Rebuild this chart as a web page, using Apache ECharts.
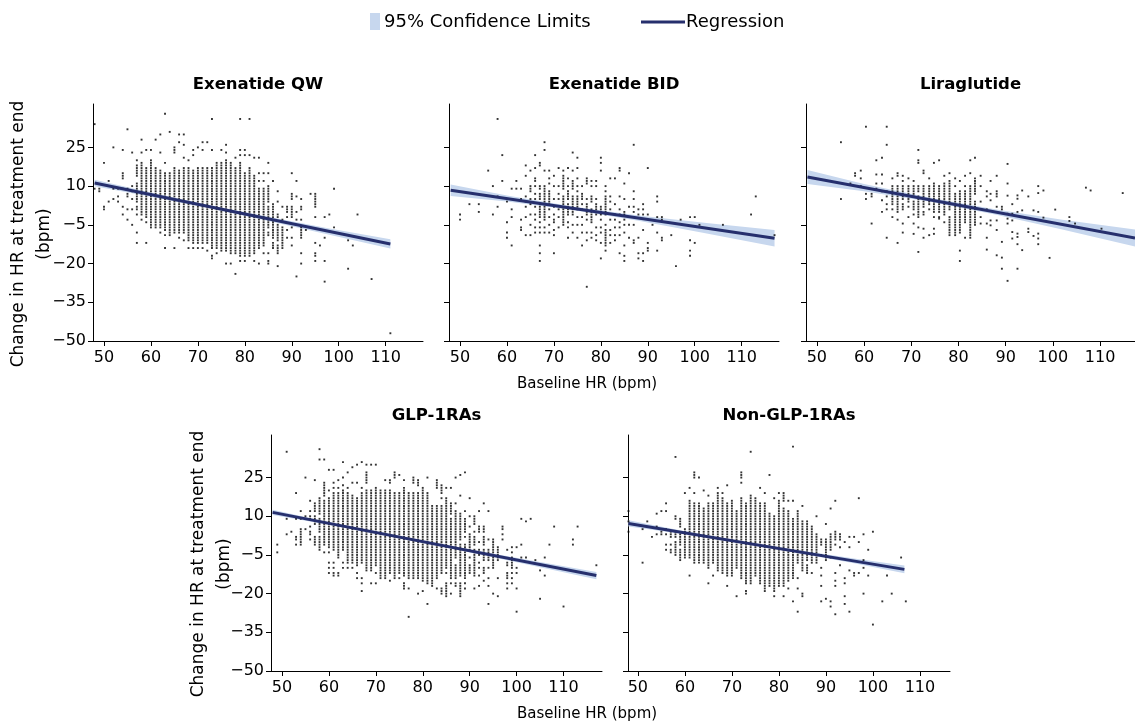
<!DOCTYPE html>
<html><head><meta charset="utf-8">
<script src="https://cdn.jsdelivr.net/npm/echarts@6/dist/echarts.min.js"></script>
<style>html,body{margin:0;padding:0;background:#fff}#chart{width:1135px;height:724px}</style>
</head><body><div id="chart"></div>
<script>
// ---------- texts / ticks ----------
const panelTitles = ['Exenatide QW', 'Exenatide BID', 'Liraglutide', 'GLP-1RAs', 'Non-GLP-1RAs'];
const xTickValues = [50, 60, 70, 80, 90, 100, 110];
const yTickValues = [-50, -35, -20, -5, 10, 25];
const xAxisName = 'Baseline HR (bpm)';
const yAxisName = 'Change in HR at treatment end\n(bpm)';
const legendLabels = ['95% Confidence Limits', 'Regression'];

// ---------- scatter data: [baseline HR, [change values at that HR]] ----------
const exenatideQW = [
 [48,[34,9]],[49,[9,8]],[50,[19,2,1]],[51,[12,4]],[52,[25,9,5]],[53,[9,6,4]],
 [54,[24,15,14,13,9,2,-1]],[55,[32,9,7,6,1,-3]],[56,[23,10,8,5,1,-5]],
 [57,[20,18,17,16,15,14,11,10,9,8,7,6,5,4,2,1,-1,-8,-12]],
 [58,[28,23,19,18,17,16,15,14,13,12,11,10,9,8,7,6,5,4,3,2,1,0,-1,-3]],
 [59,[24,17,16,15,14,13,12,11,10,9,8,7,6,5,4,3,2,1,0,-1,-2,-4,-12]],
 [60,[24,20,19,18,17,16,15,14,13,12,11,10,9,8,7,6,5,4,3,2,1,0,-1,-2,-3,-4,-5,-6]],
 [61,[28,17,16,15,14,13,12,11,10,9,8,7,6,5,4,3,2,1,0,-1,-2,-3,-4,-5,-6]],
 [62,[30,23,16,15,14,13,12,11,10,9,8,7,6,5,4,3,2,1,0,-1,-2,-3,-4,-5,-6,-8]],
 [63,[38,19,15,14,13,12,11,10,9,8,7,6,5,4,3,2,1,0,-1,-2,-3,-4,-5,-6,-7,-9,-14]],
 [64,[31,15,14,13,12,11,10,9,8,7,6,5,4,3,2,1,0,-1,-2,-3,-4,-5,-6,-7,-8,-9]],
 [65,[25,24,23,17,16,15,14,13,12,11,10,9,8,7,6,5,4,3,2,1,0,-1,-2,-3,-4,-5,-6,-7,-8,-14]],
 [66,[30,27,16,15,14,13,12,11,10,9,8,7,6,5,4,3,2,1,0,-1,-2,-3,-4,-5,-6,-7,-8,-10]],
 [67,[30,26,21,17,16,15,14,13,12,11,10,9,8,7,6,5,4,3,2,1,0,-1,-2,-3,-4,-5,-6,-7,-8,-11]],
 [68,[20,17,16,15,14,13,12,11,10,9,8,7,6,5,4,3,2,1,0,-1,-2,-3,-4,-5,-6,-7,-8,-9,-10,-11,-14]],
 [69,[24,22,16,15,14,13,12,11,10,9,8,7,6,5,4,3,2,1,0,-1,-2,-3,-4,-5,-6,-7,-8,-9,-10,-11,-12,-14]],
 [70,[25,17,16,15,14,13,12,11,10,9,8,7,6,5,4,3,2,1,0,-1,-2,-3,-4,-5,-6,-7,-8,-9,-10,-11,-12,-14]],
 [71,[27,24,17,16,15,14,13,12,11,10,9,8,7,6,5,4,3,2,1,0,-1,-2,-3,-4,-5,-6,-7,-8,-9,-10,-11,-12,-14]],
 [72,[27,17,16,15,14,13,12,11,10,9,8,7,6,5,4,3,2,1,0,-1,-2,-3,-4,-5,-6,-7,-8,-9,-10,-11,-12,-15]],
 [73,[36,24,17,16,15,14,13,12,11,10,9,8,7,6,5,4,3,2,1,0,-1,-2,-3,-4,-5,-6,-7,-8,-9,-10,-11,-12,-13,-14,-17,-18]],
 [74,[19,18,17,16,15,14,13,12,11,10,9,8,7,6,5,4,3,2,1,0,-1,-2,-3,-4,-5,-6,-7,-8,-9,-10,-11,-12,-13,-14,-16]],
 [75,[24,19,18,17,16,15,14,13,12,11,10,9,8,7,6,5,4,3,2,1,0,-1,-2,-3,-4,-5,-6,-7,-8,-9,-10,-11,-12,-13,-14,-15]],
 [76,[26,23,20,19,18,17,16,15,14,13,12,11,10,9,8,7,6,5,4,3,2,1,0,-1,-2,-3,-4,-5,-6,-7,-8,-9,-10,-11,-12,-13,-14,-15,-20]],
 [77,[19,18,17,16,15,14,13,12,11,10,9,8,7,6,5,4,3,2,1,0,-1,-2,-3,-4,-5,-6,-7,-8,-9,-10,-11,-12,-13,-14,-15,-16,-20]],
 [78,[21,17,16,15,14,13,12,11,10,9,8,7,6,5,4,3,2,1,0,-1,-2,-3,-4,-5,-6,-7,-8,-9,-10,-11,-12,-13,-14,-15,-16,-24]],
 [79,[36,24,22,19,18,17,16,15,14,13,12,11,10,9,8,7,6,5,4,3,2,1,0,-1,-2,-3,-4,-5,-6,-7,-8,-9,-10,-11,-12,-13,-14,-15,-16,-17,-19]],
 [80,[24,22,15,14,13,12,11,10,9,8,7,6,5,4,3,2,1,0,-1,-2,-3,-4,-5,-6,-7,-8,-9,-10,-11,-12,-13,-14,-15,-16,-17,-19]],
 [81,[36,22,17,16,15,14,13,12,11,10,9,8,7,6,5,4,3,2,1,0,-1,-2,-3,-4,-5,-6,-7,-8,-9,-10,-11,-12,-13,-14,-15,-16,-17]],
 [82,[21,14,13,12,11,10,9,8,7,6,5,4,3,2,1,0,-1,-2,-3,-4,-5,-6,-7,-8,-9,-10,-11,-12,-13,-14,-15,-16,-19]],
 [83,[21,15,12,9,8,7,6,5,4,3,2,1,0,-1,-2,-3,-4,-5,-6,-7,-8,-9,-10,-11,-12,-13,-14,-20]],
 [84,[15,12,9,8,7,6,5,4,3,2,1,0,-1,-2,-3,-4,-5,-6,-7,-8,-9,-10,-11,-12,-13,-16]],
 [85,[19,15,10,9,8,7,6,5,4,2,1,0,-1,-2,-3,-4,-5,-6,-8,-9,-16,-19,-20]],
 [86,[12,3,2,1,0,-1,-2,-4,-5,-6,-7,-8,-9,-10,-12,-13,-14]],
 [87,[8,4,-1,-2,-5,-6,-7,-8,-9,-10,-11,-13,-14,-15,-16,-21]],
 [88,[2,-3,-6,-7,-8,-9,-10,-11,-12,-13,-14]],
 [89,[2,1,0,-2,-7,-10]],
 [90,[15,7,6,5,2,1,0,-1,-2,-6,-10,-13]],
 [91,[12,6,0,-3,-25]],
 [92,[5,2,1,-3,-6,-7,-8,-9,-10,-16,-20]],
 [93,[-7]],[94,[7]],[95,[7,6,5,4,3,2,-2,-12,-16,-17,-19]],[96,[-13]],[97,[-2,-10,-19,-27]],
 [98,[-1]],[99,[9,-6]],[102,[-11,-22]],[103,[-13]],[104,[-1]],[107,[-26]],[111,[-47]]
];

const exenatideBID = [
 [50,[-1,-3]],[52,[3]],[54,[3,0]],[56,[16]],[57,[10,-1]],[58,[36,6,2]],[59,[22,12]],
 [60,[4,-4,-8,-10]],[61,[9,1,-2,-13]],[62,[12,9]],[63,[9,5,-3,-6,-7]],
 [64,[18,14,6,4,2,-2,-9]],
 [65,[16,10,9,8,5,3,-1,-5,-9]],
 [66,[22,17,13,12,10,7,5,2,-1,-3,-6,-8]],
 [67,[19,18,10,9,7,6,5,3,2,1,0,-1,-2,-4,-6,-8,-13,-16,-19]],
 [68,[27,24,16,10,9,8,7,6,5,4,3,2,1,0,-1,-2,-3,-6,-8]],
 [69,[16,13,11,8,7,6,5,4,3,1,-2,-5,-8]],
 [70,[14,10,5,2,-1,-3,-4,-7,-9,-16]],
 [71,[17,10,7,5,1,-2,-6]],
 [72,[16,14,13,12,11,10,9,6,5,4,3,1,0,-1,-2,-3,-4,-5]],
 [73,[17,13,10,8,7,6,5,3,2,1,0,-1,-4,-6,-10]],
 [74,[23,16,12,11,10,9,6,5,4,3,2,1,0,-1,-5,-8]],
 [75,[21,17,13,10,8,6,5,4,3,2,1,-2,-5,-10]],
 [76,[10,7,6,5,3,1,-2,-5,-8,-13]],
 [77,[13,12,11,5,3,2,1,0,-1,-3,-8,-11,-29]],
 [78,[12,10,6,5,4,1,0,-1,-2,-3,-4,-8,-10]],
 [79,[12,10,5,3,2,1,0,-1,-6,-9,-11]],
 [80,[21,19,16,2,1,0,-1,-3,-6,-8,-12,-18]],
 [81,[10,8,6,5,4,3,2,1,0,-1,-5,-7,-8,-9,-10,-11,-12,-13,-15]],
 [82,[13,6,4,1,-3,-7,-9,-12]],
 [83,[13,3,-1,-3,-6,-9,-11]],
 [84,[17,16,6,1,-1,-4,-6,-9,-16]],
 [85,[11,5,0,-1,-3,-5,-8,-13,-17,-19]],
 [86,[15,2,-2,-5,-10]],
 [87,[26,8,5,2,0,-2,-5,-11,-12]],
 [88,[1,-1,-10,-16,-18]],
 [89,[3,1,-1,-7,-16,-19]],
 [90,[17,-1,-12,-14,-15]],
 [91,[-5]],[92,[6,4,-2,-8,-15]],[93,[-2,-3,-10,-11]],[95,[-9]],[96,[-21]],[97,[-3]],
 [99,[-2,-11,-15,-17]],[100,[-2,-12]],[101,[-5]],[106,[-5]],[112,[-1]],[113,[6]],[117,[-9]]
];

const liraglutide = [
 [55.1,[27,5]],[57.1,[11]],[58.1,[15,14]],[59.3,[16,13,10]],[60.4,[33,7,5]],[61.6,[7,6,-4.5]],
 [62.6,[20,14.5,11,9]],[63.8,[21,14.5,11,8,4.5,0]],[64.8,[33,26,8,6,3,1,-10]],
 [66,[13,10,9,8,7,6,5,4,3,1,-2]],
 [67.1,[15,14,10,9,8,7,6,5,4,3,2,1,0,-3,-12]],
 [68.2,[14,12,10,9,8,7,6,5,3,2,1,-4.5,-8]],
 [69.4,[13,10,9,8,7,6,5,4,2,-2]],
 [70.5,[12,10,9,8,7,6,4,3,2,1,-1,-4.5,-8.5]],
 [71.5,[24,20,19,10,9,8,6,5,4,3,2,1,0,-1,-2,-6,-15.5]],
 [72.6,[16,15,10,9,8,7,6,5,4,3,2,0,-1,-6.5,-10]],
 [73.8,[13,10,9,8,7,6,5,4,3,1,-9]],
 [74.8,[19,11,10,9,8,7,6,5,4,3,2,1,0,-2,-6.5,-8.5]],
 [75.9,[20,10,9,8,7,6,5,4,3,2,1,0,-2,-2.6]],
 [77,[14,11,10,9,8,7,6,5,4,3,2,1,0,-1,-4]],
 [78.1,[15,12,11,10,9,8,7,6,5,4,3,2,1,-2,-3,-4,-5,-6,-7,-8,-9]],
 [79.3,[13,10,7,6,5,4,3,2,1,0,-1,-2,-3,-4,-5,-6,-7,-8,-9]],
 [80.3,[12,8,7,6,5,4,3,2,1,0,-1,-2,-3,-4,-5,-6,-7,-8,-15,-19]],
 [81.4,[14,10,8,7,6,5,4,3,2,1,0,-1,-2,-3,-4,-10]],
 [82.5,[20,15,10,9,8,7,6,5,4,3,2,1,0,-1,-2,-3,-4,-5,-6,-7,-8,-9,-10]],
 [83.5,[21,13,12,11,10,9,8,7,4,3,2,1,0,-1,-2,-3,-4,-5]],
 [84.7,[14,10,4,-2,-4.5]],
 [86,[8,6,1,-4.5,-10,-14.6]],
 [86.8,[12,7,4.5,-3.3,-5.2]],
 [88.1,[14,8,7,6,2,-3.3,-7,-16.8]],
 [89.2,[2,1,-11.6,-17.7,-22]],
 [90.4,[18.6,11,6.3,-0.7,-2.6,-4.5,-26.7]],
 [91.4,[3,-0.7,-3.3,-7.8,-10.3]],
 [92.5,[6.4,5.1,0,-8.4,-9.7,-12.5,-22]],
 [93.5,[8.3,0.6,-14.8]],[94.8,[6,-6.5,-7.8]],[95.9,[0.6,-9.3]],
 [96.9,[10,7.3,0,-8.4,-10.3,-12.5]],[98,[8.3,-2.2]],[99.3,[-17.8]],[100.5,[0.9]],
 [103.5,[-2,-3.5]],[104.7,[-4.5]],[107,[9.4]],[108,[8.3]],[110.3,[-6.5]],[114.8,[7.3]]
];

const glp1ras = [
 [49,[-1,-4]],[51,[35,9,3]],[52,[4]],[53,[19,9,2,1,-1]],[54,[12,9,5,4,3,2,1,0,-1]],
 [55,[25,10,9,5]],[56,[16,12,10,9,6,4,3,1]],[57,[24,15,14,13,12,10,9,8,7,2,1,0,-1]],
 [58,[36,32,17,16,15,14,13,12,11,9,8,7,6,5,4,2,1,0,-1,-2,-3]],
 [59,[32,23,22,21,20,19,18,16,15,14,13,12,11,10,9,8,7,6,5,4,3,2,1,0,-1,-4]],
 [60,[28,20,17,16,15,14,13,12,11,10,9,8,7,6,5,4,3,2,1,0,-1,-2,-4,-8,-10,-12]],
 [61,[28,23,21,19,18,17,16,15,14,13,12,11,10,9,8,7,6,5,4,3,2,1,0,-1,-2,-3,-8,-10,-12,-13]],
 [62,[24,21,19,18,17,16,15,14,13,12,11,10,9,8,7,6,5,4,3,2,1,0,-1,-2,-3,-4,-5,-6,-12,-13]],
 [63,[31,25,22,20,19,18,17,16,15,14,13,12,11,10,9,8,7,6,5,4,3,2,1,0,-1,-2,-3,-8,-10]],
 [64,[27,21,19,18,17,16,15,14,13,12,11,10,9,8,7,6,5,4,3,2,1,0,-1,-2,-3,-4,-5,-6,-7,-8,-10]],
 [65,[29,23,18,17,16,15,14,13,12,11,10,9,8,7,6,5,4,3,2,1,0,-1,-2,-3,-4,-5,-6,-7,-8,-10]],
 [66,[30,23,17,16,15,14,13,12,11,10,9,8,7,6,5,4,3,2,1,0,-1,-2,-3,-4,-5,-6,-7,-8,-9,-12,-14]],
 [67,[31,21,19,18,17,16,15,14,13,12,11,10,9,8,7,6,5,4,3,2,1,0,-1,-2,-3,-4,-5,-6,-7,-8,-14,-16,-19]],
 [68,[30,27,26,25,24,23,20,19,18,17,16,15,14,13,12,11,10,9,8,7,6,5,4,3,2,1,0,-1,-2,-3,-4,-5,-6,-7,-8,-9,-10,-11]],
 [69,[30,20,19,18,17,16,15,14,13,12,11,10,9,8,7,6,5,4,3,2,1,0,-1,-2,-3,-4,-5,-6,-7,-8,-9,-10,-11,-16]],
 [70,[30,21,20,19,18,17,16,15,14,13,12,11,10,9,8,7,6,5,4,3,2,1,0,-1,-2,-3,-4,-5,-6,-7,-8,-9,-12,-16]],
 [71,[20,19,18,17,16,15,14,13,12,11,10,9,8,7,6,5,4,3,2,1,0,-1,-2,-3,-4,-5,-6,-7,-8,-9,-10,-11,-12,-13,-14]],
 [72,[24,20,19,18,17,16,15,14,13,12,11,10,9,8,7,6,5,4,3,2,1,0,-1,-2,-3,-4,-5,-6,-7,-8,-9,-10,-11,-12,-13,-14]],
 [73,[24,23,20,19,18,17,16,15,14,13,12,11,10,9,8,7,6,5,4,3,2,1,0,-1,-2,-3,-4,-5,-6,-7,-8,-9,-10,-11,-12,-15]],
 [74,[27,26,25,19,18,17,16,15,14,13,12,11,10,9,8,7,6,5,4,3,2,1,0,-1,-2,-3,-4,-5,-6,-7,-8,-9,-10,-11,-12,-13,-14]],
 [75,[26,19,18,17,16,15,14,13,12,11,10,9,8,7,6,5,4,3,2,1,0,-1,-2,-3,-4,-5,-6,-7,-8,-9,-10,-11,-12,-14]],
 [76,[24,21,20,19,18,17,16,15,14,13,12,11,10,9,8,7,6,5,4,3,2,1,0,-1,-2,-3,-4,-5,-6,-7,-8,-9,-10,-11,-12,-13,-16,-17,-18]],
 [77,[19,18,17,16,15,14,13,12,11,10,9,8,7,6,5,4,3,2,1,0,-1,-2,-3,-4,-5,-6,-7,-8,-9,-10,-11,-12,-13,-14,-18,-29]],
 [78,[25,24,23,19,18,17,16,15,14,13,12,11,10,9,8,7,6,5,4,3,2,1,0,-1,-2,-3,-4,-5,-6,-7,-8,-9,-10,-11,-12,-13,-14]],
 [79,[24,23,22,19,18,17,16,15,14,13,12,11,10,9,8,7,6,5,4,3,2,1,0,-1,-2,-3,-4,-5,-6,-7,-8,-9,-10,-11,-12,-13,-14,-20]],
 [80,[21,20,19,18,17,16,15,14,13,12,11,10,9,8,7,6,5,4,3,2,1,0,-1,-2,-3,-4,-5,-6,-7,-8,-9,-10,-11,-12,-13,-14,-15,-19]],
 [81,[25,19,18,17,16,15,14,13,12,11,10,9,8,7,6,5,4,3,2,1,0,-1,-2,-3,-4,-5,-6,-7,-8,-9,-10,-11,-12,-13,-14,-15,-16,-24]],
 [82,[14,13,12,11,10,9,8,7,6,5,4,3,2,1,0,-1,-2,-3,-4,-5,-6,-7,-8,-9,-10,-11,-12,-13,-14,-15,-16,-17]],
 [83,[24,23,22,21,14,13,12,11,10,9,8,7,6,5,4,3,2,1,0,-1,-2,-3,-4,-5,-6,-7,-8,-9,-10,-11,-12,-13,-14,-18]],
 [84,[22,21,20,19,17,14,13,12,11,10,9,8,7,6,5,4,3,2,1,0,-1,-2,-3,-4,-5,-6,-7,-8,-9,-10,-11,-12,-18,-19,-20]],
 [85,[21,17,16,15,14,13,12,11,10,9,8,7,6,5,4,3,2,1,0,-1,-2,-3,-4,-5,-6,-7,-8,-9,-10,-12,-16,-17,-18,-19,-20,-21]],
 [86,[21,15,14,13,12,11,9,8,7,6,5,4,3,2,1,0,-1,-2,-3,-4,-5,-6,-7,-8,-9,-10,-11,-12,-13,-14,-16,-20]],
 [87,[25,15,12,11,10,9,8,7,6,5,4,3,2,1,0,-1,-2,-3,-4,-5,-6,-9,-10,-11,-12,-13,-14,-16,-17]],
 [88,[26,18,11,10,9,8,7,6,5,4,3,2,1,-1,-2,-3,-4,-5,-6,-7,-8,-9,-10,-11,-12,-13,-16,-17,-18,-19,-20,-21]],
 [89,[27,12,9,8,7,6,5,4,2,-1,-2,-3,-4,-5,-6,-7,-8,-9,-10,-11,-12,-13,-14,-16,-18]],
 [90,[17,10,6,3,2,1,0,-1,-2,-3,-6,-9,-10,-11,-12]],
 [91,[10,9,8,7,4,2,1,0,-1,-3,-4,-5,-6,-7,-8,-9,-10,-11,-12,-13,-18]],
 [92,[12,6,5,4,0,-3,-5,-8,-10,-13,-17]],
 [93,[15,6,5,4,2,1,0,-1,-3,-4,-5,-6,-7,-10,-11,-12,-15]],
 [94,[12,1,-3,-4,-5,-6,-7,-10,-14,-17,-24]],
 [95,[1,0,-1,-2,-3,-4,-5,-6,-7,-8,-9,-10,-20]],
 [96,[-2,-3,-4,-5,-6,-7,-14,-21]],
 [97,[6,5,3,1]],
 [98,[-3,-8,-9,-12,-13,-14,-16,-18]],
 [99,[-2,-4,-6,-7,-8,-9,-10,-12,-14,-16]],
 [100,[-2,-10,-12,-18,-27]],[101,[9,-1,-6]],[102,[8,-6]],[103,[9]],[104,[-7]],[105,[-11,-22]],
 [106,[-6,-13]],[107,[-1]],[108,[6]],[110,[-25]],[112,[1,-1]],[113,[6]],[117,[-9]]
];

const nonGlp1ras = [
 [48,[12,8,4]],[51,[5,-8]],[52,[8]],[53,[2]],[54,[11,6,3]],[55,[12,4,3]],[56,[15,12,5,3,-1,-3]],
 [57,[4,3,2,-1,-3,-4]],[58,[33,10,9,4,3,2,0,-1,-2,-3,-4,-5]],
 [59,[9,8,7,6,3,2,1,0,-1,-3,-4,-5,-6,-7]],
 [60,[19,5,4,3,2,1,0,-1,-2,-3,-4,-5,-6]],
 [61,[21,16,15,14,13,12,11,10,9,8,7,6,5,4,3,2,1,0,-1,-2,-3,-4,-5,-6,-13]],
 [62,[27,26,25,19,15,14,13,12,11,10,9,8,7,6,5,4,3,2,1,0,-1,-2,-3,-4,-5,-6,-7,-8]],
 [63,[25,15,14,13,12,11,10,9,8,7,6,5,4,3,2,1,0,-1,-2,-3,-4,-5,-6,-7,-8]],
 [64,[20,13,12,11,10,9,8,7,6,5,4,3,2,1,0,-1,-2,-3,-4,-5,-6,-7,-8]],
 [65,[18,15,14,13,12,11,10,9,8,7,6,5,4,3,2,1,0,-1,-2,-3,-4,-5,-6,-7,-8,-9,-10,-16]],
 [66,[15,14,13,12,11,10,9,8,7,6,5,4,3,2,1,0,-1,-2,-3,-4,-5,-6,-7,-8,-13]],
 [67,[21,19,18,17,16,15,14,13,12,11,10,9,8,7,6,5,4,3,2,1,0,-1,-2,-3,-4,-5,-6,-7,-8,-9,-10,-11]],
 [68,[19,17,16,15,14,13,12,11,10,9,8,7,6,5,4,3,2,1,0,-1,-2,-3,-4,-5,-6,-7,-8,-9,-10,-11,-12]],
 [69,[22,15,14,13,12,11,10,9,8,7,6,5,4,3,2,1,0,-1,-2,-3,-4,-5,-6,-7,-8,-9,-10,-11,-12,-13,-17]],
 [70,[16,15,14,13,12,11,10,9,8,7,6,5,4,3,2,1,0,-1,-2,-3,-4,-5,-6,-7,-8,-9,-10,-11,-12,-13]],
 [71,[12,11,10,9,8,7,6,5,4,3,2,1,0,-1,-2,-3,-4,-5,-6,-7,-8,-9,-10,-21]],
 [72,[27,26,25,23,17,16,15,14,13,12,11,10,9,8,7,6,5,4,3,2,1,0,-1,-2,-3,-4,-5,-6,-7,-8,-9,-10,-11,-12,-13,-14]],
 [73,[15,14,13,12,11,10,9,8,7,6,5,4,3,2,1,0,-1,-2,-3,-4,-5,-6,-7,-8,-9,-10,-11,-12,-13,-14,-15,-16,-19,-20]],
 [74,[35,18,17,16,15,14,13,12,11,10,9,8,7,6,5,4,3,2,1,0,-1,-2,-3,-4,-5,-6,-7,-8,-9,-10,-11,-12,-13,-14,-15,-16]],
 [75,[17,16,15,14,13,12,11,10,9,8,7,6,5,4,3,2,1,0,-1,-2,-3,-4,-5,-6,-7,-8,-9,-10,-11,-12,-13]],
 [76,[21,15,14,13,12,11,10,9,8,7,6,5,4,3,2,1,0,-1,-2,-3,-4,-5,-6,-7,-8,-9,-10,-11,-12,-13,-14,-15,-16]],
 [77,[19,15,14,13,12,11,10,9,8,7,6,5,4,3,2,1,0,-1,-2,-3,-4,-5,-6,-7,-8,-9,-10,-11,-12,-13,-14,-15,-16,-17,-18,-19]],
 [78,[26,11,10,9,8,7,6,5,4,3,2,1,0,-1,-2,-3,-4,-5,-6,-7,-8,-9,-10,-11,-12,-13,-14,-15,-16,-17]],
 [79,[17,10,9,8,7,6,5,4,3,2,1,0,-1,-2,-3,-4,-5,-6,-7,-8,-9,-10,-11,-12,-13,-14,-15,-16,-17,-18,-19,-21]],
 [80,[19,16,15,14,13,12,11,10,9,8,7,6,5,4,3,2,1,0,-1,-2,-3,-4,-5,-6,-7,-8,-9,-10,-11,-12,-13,-14,-15,-16,-17]],
 [81,[19,18,17,16,13,12,11,10,9,8,7,6,5,4,3,2,1,0,-1,-2,-3,-4,-5,-6,-7,-8,-9,-10,-11,-12,-13,-14,-15,-16,-17,-21]],
 [82,[16,12,11,10,9,8,7,6,5,4,3,2,1,0,-1,-2,-3,-4,-5,-6,-7,-8,-9,-10,-11,-12,-13,-14,-15,-18]],
 [83,[37,16,9,8,7,6,5,4,3,2,1,0,-1,-2,-3,-4,-5,-6,-7,-8,-9,-10,-11,-12,-13,-14,-23]],
 [84,[12,11,10,9,8,7,6,5,4,3,2,1,0,-1,-2,-3,-4,-5,-6,-7,-8,-14,-18,-27]],
 [85,[14,8,7,6,5,4,3,2,1,0,-1,-2,-3,-4,-5,-6,-7,-8,-9,-10,-11,-20,-21]],
 [86,[8,7,6,5,4,3,2,1,0,-1,-2,-3,-4,-5,-6,-7,-9,-10,-11,-12]],
 [87,[6,5,4,3,2,1,0,-1,-2,-3,-4,-5,-6,-7,-8,-12]],
 [88,[10,3,2,1,0,-1,-2,-3,-4,-5,-6,-7,-8]],
 [89,[1,0,-1,-5,-10,-13,-17,-23]],
 [90,[7,1,0,-1,-2,-3,-4,-5,-6,-7,-22]],
 [91,[13,3,2,1,0,-1,-2,-3,-6,-23,-25]],
 [92,[16,4,3,2,1,-1,-12,-15,-17,-28]],
 [93,[3,2,1,-2,-9]],[94,[0,-14,-16,-21,-24]],[95,[2,-2,-11,-27]],[96,[2,-12,-13]],
 [97,[17,0,-12]],[98,[3,-7,-10,-20]],[99,[-3,-13]],[100,[4,-32]],[102,[-23]],[103,[-13]],
 [104,[-20]],[106,[-6]],[107,[-23]]
];

// ---------- regression lines: [x, y] at both ends ----------
const exenatideQWReg = [[48, 11.2], [111, -12.4]];
const exenatideBIDReg = [[48, 8.4], [117, -10.2]];
const liraglutideReg = [[48, 13.5], [117.4, -10.1]];
const glp1rasReg = [[48, 11.5], [117, -13.0]];
const nonGlp1rasReg = [[48, 7.2], [106.7, -10.6]];

// ---------- 95% confidence limits: [x, lower, upper] ----------
const exenatideQWBand = [[48,9.9,12.5],[60,5.9,7.5],[72,1.6,2.8],[85,-3.5,-1.9],[98,-8.8,-6.4],[111,-14.2,-10.6]];
const exenatideBIDBand = [[48,6.2,10.6],[60,4.0,6.4],[74,0.7,2.1],[88,-3.4,-1.4],[102,-8.2,-4.2],[117,-13.4,-7.0]];
const liraglutideBand = [[48,10.8,16.2],[60,8.0,10.8],[74,3.9,5.5],[88,-1.1,0.9],[102,-6.8,-3.0],[117.4,-13.4,-6.8]];
const glp1rasBand = [[48,10.5,12.5],[60,6.7,7.7],[74,1.9,2.7],[88,-3.2,-2.2],[102,-8.6,-6.8],[117,-14.4,-11.6]];
const nonGlp1rasBand = [[48,6.0,8.4],[60,3.0,4.2],[73,-0.8,0.0],[86,-4.9,-3.7],[96,-8.2,-6.4],[106.7,-12.1,-9.1]];

// ---------- layout / style ----------
const FONT = 'DejaVu Sans';
const LINE_COLOR = '#262f6d';
const BAND_COLOR = '#c7d7ee';
const panels = [
  {pts: exenatideQW, reg: exenatideQWReg, band: exenatideQWBand, grid: {left: 93, top: 104, width: 330, height: 237}, xr: [47.66, 117.95], ymax: 41.8, yLabels: true},
  {pts: exenatideBID, reg: exenatideBIDReg, band: exenatideBIDBand, grid: {left: 449, top: 104, width: 330, height: 237}, xr: [47.65, 117.95], ymax: 41.8, yLabels: false},
  {pts: liraglutide, reg: liraglutideReg, band: liraglutideBand, grid: {left: 806, top: 104, width: 329, height: 237}, xr: [47.7, 117.4], ymax: 41.8, yLabels: false},
  {pts: glp1ras, reg: glp1rasReg, band: glp1rasBand, grid: {left: 271, top: 435, width: 331, height: 236}, xr: [47.66, 118.2], ymax: 41.5, yLabels: true},
  {pts: nonGlp1ras, reg: nonGlp1rasReg, band: nonGlp1rasBand, grid: {left: 628, top: 435, width: 322, height: 236}, xr: [47.9, 116.4], ymax: 41.5, yLabels: false}
];

const minus = v => String(v).replace('-', '\u2212');
const grid = [], xAxis = [], yAxis = [], series = [], graphic = [];

panels.forEach((p, i) => {
  grid.push(Object.assign({containLabel: false}, p.grid));
  xAxis.push({
    type: 'value', gridIndex: i, min: p.xr[0], max: p.xr[1],
    axisLine: {show: true, onZero: false, lineStyle: {color: '#000', width: 1}},
    axisTick: {show: true, length: 5, customValues: xTickValues, lineStyle: {color: '#000'}},
    axisLabel: {show: true, customValues: xTickValues, color: '#000', fontFamily: FONT, fontSize: 16, margin: 9},
    splitLine: {show: false}
  });
  yAxis.push({
    type: 'value', gridIndex: i, min: -50, max: p.ymax,
    axisLine: {show: true, onZero: false, lineStyle: {color: '#000', width: 1}},
    axisTick: {show: true, length: 5, customValues: yTickValues, lineStyle: {color: '#000'}},
    axisLabel: {show: p.yLabels, customValues: yTickValues, color: '#000', fontFamily: FONT, fontSize: 16, margin: 7, formatter: minus},
    splitLine: {show: false}
  });
  const band = p.band;
  series.push({
    type: 'custom', xAxisIndex: i, yAxisIndex: i, silent: true, z: 1,
    data: [[band[0][0], band[0][1]]],
    renderItem: (params, api) => {
      const up = band.map(b => api.coord([b[0], b[2]]));
      const lo = band.slice().reverse().map(b => api.coord([b[0], b[1]]));
      return {type: 'polygon', shape: {points: up.concat(lo)}, style: {fill: BAND_COLOR}};
    }
  });
  series.push({
    type: 'scatter', xAxisIndex: i, yAxisIndex: i, silent: true, z: 2,
    symbol: 'rect', symbolSize: 1.9, itemStyle: {color: '#000'},
    data: p.pts.flatMap(([x, ys]) => ys.map(y => [x, y]))
  });
  series.push({
    type: 'line', xAxisIndex: i, yAxisIndex: i, silent: true, z: 3,
    symbol: 'none', lineStyle: {color: LINE_COLOR, width: 3},
    data: p.reg
  });
  graphic.push({
    type: 'text', x: p.grid.left + p.grid.width / 2, y: p.grid.top - 19,
    style: {text: panelTitles[i], font: 'bold 16.5px "' + FONT + '"', fill: '#000', textAlign: 'center', textVerticalAlign: 'middle'}
  });
});

// axis names
[[32, 234], [212, 564]].forEach(([x, y]) => graphic.push({
  type: 'text', x: x, y: y, rotation: Math.PI / 2,
  style: {text: yAxisName, font: '17px "' + FONT + '"', lineHeight: 26, fill: '#000', textAlign: 'center', textVerticalAlign: 'middle'}
}));
[[587, 384], [587, 714]].forEach(([x, y]) => graphic.push({
  type: 'text', x: x, y: y,
  style: {text: xAxisName, font: '15px "' + FONT + '"', fill: '#000', textAlign: 'center', textVerticalAlign: 'middle'}
}));

// legend
graphic.push({type: 'rect', shape: {x: 370, y: 13, width: 10, height: 17}, style: {fill: BAND_COLOR}});
graphic.push({type: 'text', x: 384, y: 22, style: {text: legendLabels[0], font: '18px "' + FONT + '"', fill: '#000', textAlign: 'left', textVerticalAlign: 'middle'}});
graphic.push({type: 'line', shape: {x1: 641, y1: 22, x2: 685, y2: 22}, style: {stroke: LINE_COLOR, lineWidth: 3}});
graphic.push({type: 'text', x: 686, y: 22, style: {text: legendLabels[1], font: '18px "' + FONT + '"', fill: '#000', textAlign: 'left', textVerticalAlign: 'middle'}});

const chart = echarts.init(document.getElementById('chart'), null, {renderer: 'canvas'});
chart.setOption({animation: false, backgroundColor: '#fff', grid, xAxis, yAxis, series, graphic});
</script>
</body></html>
